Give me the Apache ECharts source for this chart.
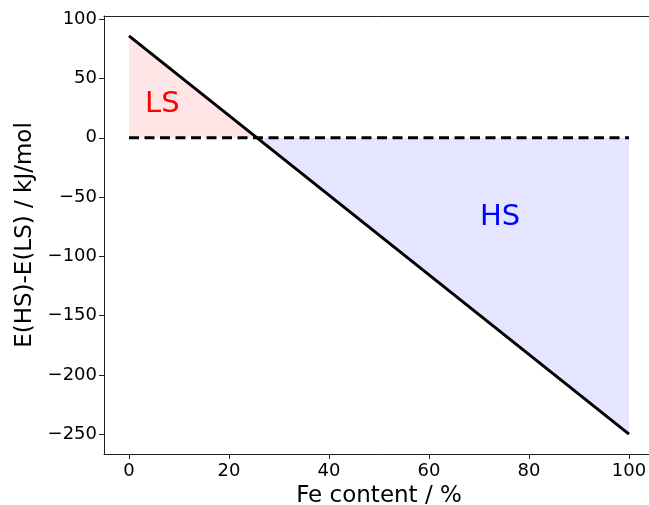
<!DOCTYPE html>
<html>
<head>
<meta charset="utf-8">
<script src="https://cdn.jsdelivr.net/npm/echarts@6/dist/echarts.min.js"></script>
<style>
html,body{margin:0;padding:0;background:#fff;}
#chart{width:649px;height:505px;}
</style>
</head>
<body>
<div id="chart"></div>
<script>
// Data
const feContent = [0, 100];              // x, %
const energyDiff = [86, -250];           // y, kJ/mol
const crossingX = 25.6;                  // where the line crosses 0
const zeroLineX = [0, 100];
const zeroLineY = [0, 0];
const xTicks = [0, 20, 40, 60, 80, 100];
const yTicks = [-250, -200, -150, -100, -50, 0, 50, 100];
const labelLS = {text: 'LS', x: 3.2, y: 27.8};
const labelHS = {text: 'HS', x: 70.2, y: -67.5};

const font = 'DejaVu Sans';
const chart = echarts.init(document.getElementById('chart'), null, {renderer: 'canvas'});

const mainLine = feContent.map((x, i) => [x, energyDiff[i]]);
const lsArea = [[feContent[0], energyDiff[0]], [crossingX, 0]];
const hsArea = [[crossingX, 0], [feContent[1], energyDiff[1]]];
const zeroLine = zeroLineX.map((x, i) => [x, zeroLineY[i]]);

chart.setOption({
  animation: false,
  backgroundColor: '#fff',
  grid: {left: 104, right: -5, top: 16, bottom: 51, containLabel: false, outerBoundsMode: 'none', show: false},
  xAxis: [{
    type: 'value', min: -5, max: 105,
    name: 'Fe content / %', nameLocation: 'middle', nameGap: 29,
    nameTextStyle: {fontFamily: font, fontSize: 23, color: '#000'},
    axisLine: {show: true, onZero: false, lineStyle: {color: '#222', width: 1}},
    axisTick: {show: true, inside: false, length: 5, lineStyle: {color: '#222'}, customValues: xTicks},
    axisLabel: {fontFamily: font, fontSize: 18, color: '#000', margin: 8, customValues: xTicks},
    splitLine: {show: false}
  }, {
    type: 'value', min: -5, max: 105, position: 'top',
    axisLine: {show: true, onZero: false, lineStyle: {color: '#222', width: 1}},
    axisTick: {show: false}, axisLabel: {show: false}, splitLine: {show: false}
  }],
  yAxis: {
    type: 'value', min: -266.8, max: 102.8,
    name: 'E(HS)-E(LS) / kJ/mol', nameLocation: 'middle', nameGap: 66, nameRotate: 90,
    nameTextStyle: {fontFamily: font, fontSize: 23, color: '#000'},
    axisLine: {show: true, onZero: false, lineStyle: {color: '#222', width: 1}},
    axisTick: {show: true, inside: false, length: 5, lineStyle: {color: '#222'}, customValues: yTicks},
    axisLabel: {fontFamily: font, fontSize: 18, color: '#000', margin: 7, customValues: yTicks,
      formatter: v => (v < 0 ? '\u2212' + Math.abs(v) : String(v))},
    splitLine: {show: false}
  },
  series: [
    {type: 'line', data: lsArea, symbol: 'none', lineStyle: {width: 0},
     areaStyle: {color: 'rgba(255,0,0,0.1)', origin: 'auto', opacity: 1}, z: 1, silent: true},
    {type: 'line', data: hsArea, symbol: 'none', lineStyle: {width: 0},
     areaStyle: {color: 'rgba(0,0,255,0.1)', origin: 'auto', opacity: 1}, z: 1, silent: true},
    {type: 'line', data: zeroLine, symbol: 'none',
     lineStyle: {color: '#000', width: 3, type: [10, 5.5]}, z: 2},
    {type: 'line', data: mainLine, symbol: 'none',
     lineStyle: {color: '#000', width: 3}, z: 3},
    {type: 'scatter', symbolSize: 0, z: 4, itemStyle: {opacity: 1},
     data: [
       {value: [labelLS.x, labelLS.y], label: {show: true, formatter: labelLS.text, color: '#ff0000'}},
       {value: [labelHS.x, labelHS.y], label: {show: true, formatter: labelHS.text, color: '#0000ff'}}
     ],
     label: {show: true, position: [0, 0], align: 'left', verticalAlign: 'middle', fontFamily: font,
             fontSize: 29, textBorderWidth: 0, opacity: 1}}
  ]
});
</script>
</body>
</html>
